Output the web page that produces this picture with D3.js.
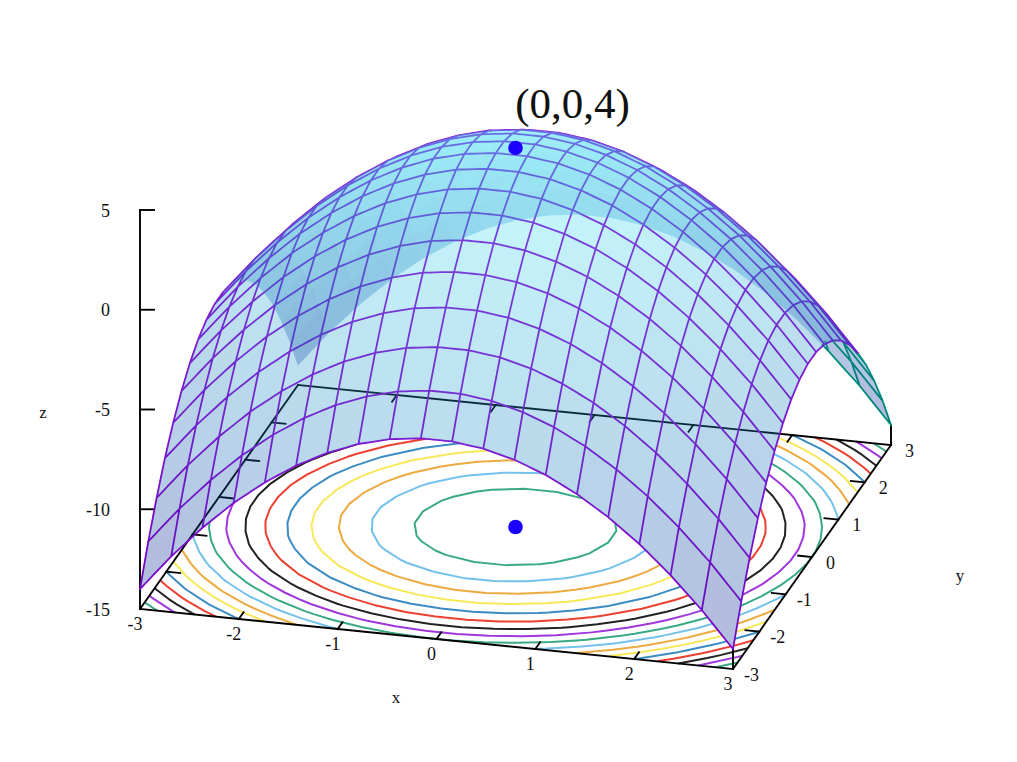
<!DOCTYPE html>
<html>
<head>
<meta charset="utf-8">
<script src="https://cdn.jsdelivr.net/npm/d3@7"></script>
<style>
html,body{margin:0;padding:0;background:#fff}
svg{display:block}
text{font-family:"Liberation Serif",serif;fill:#111}
</style>
</head>
<body>
<svg id="chart" width="1017" height="762"></svg>
<script>
const gridX = [-3,-2.684,-2.368,-2.053,-1.737,-1.421,-1.105,-0.789,-0.474,-0.158,0.158,0.474,0.789,1.105,1.421,1.737,2.053,2.368,2.684,3];
const gridY = gridX.slice();
const zRows = [
[-14,-12.2,-10.61,-9.21,-8.02,-7.02,-6.22,-5.62,-5.22,-5.02,-5.02,-5.22,-5.62,-6.22,-7.02,-8.02,-9.21,-10.61,-12.2,-14],
[-12.2,-10.4,-8.81,-7.41,-6.22,-5.22,-4.42,-3.82,-3.42,-3.22,-3.22,-3.42,-3.82,-4.42,-5.22,-6.22,-7.41,-8.81,-10.4,-12.2],
[-10.61,-8.81,-7.22,-5.82,-4.63,-3.63,-2.83,-2.23,-1.83,-1.63,-1.63,-1.83,-2.23,-2.83,-3.63,-4.63,-5.82,-7.22,-8.81,-10.61],
[-9.21,-7.41,-5.82,-4.42,-3.23,-2.23,-1.43,-0.83,-0.43,-0.23,-0.23,-0.43,-0.83,-1.43,-2.23,-3.23,-4.42,-5.82,-7.41,-9.21],
[-8.02,-6.22,-4.63,-3.23,-2.04,-1.04,-0.24,0.36,0.76,0.96,0.96,0.76,0.36,-0.24,-1.04,-2.04,-3.23,-4.63,-6.22,-8.02],
[-7.02,-5.22,-3.63,-2.23,-1.04,-0.04,0.76,1.36,1.76,1.96,1.96,1.76,1.36,0.76,-0.04,-1.04,-2.23,-3.63,-5.22,-7.02],
[-6.22,-4.42,-2.83,-1.43,-0.24,0.76,1.56,2.16,2.56,2.76,2.76,2.56,2.16,1.56,0.76,-0.24,-1.43,-2.83,-4.42,-6.22],
[-5.62,-3.82,-2.23,-0.83,0.36,1.36,2.16,2.76,3.16,3.36,3.36,3.16,2.76,2.16,1.36,0.36,-0.83,-2.23,-3.82,-5.62],
[-5.22,-3.42,-1.83,-0.43,0.76,1.76,2.56,3.16,3.56,3.76,3.76,3.56,3.16,2.56,1.76,0.76,-0.43,-1.83,-3.42,-5.22],
[-5.02,-3.22,-1.63,-0.23,0.96,1.96,2.76,3.36,3.76,3.96,3.96,3.76,3.36,2.76,1.96,0.96,-0.23,-1.63,-3.22,-5.02],
[-5.02,-3.22,-1.63,-0.23,0.96,1.96,2.76,3.36,3.76,3.96,3.96,3.76,3.36,2.76,1.96,0.96,-0.23,-1.63,-3.22,-5.02],
[-5.22,-3.42,-1.83,-0.43,0.76,1.76,2.56,3.16,3.56,3.76,3.76,3.56,3.16,2.56,1.76,0.76,-0.43,-1.83,-3.42,-5.22],
[-5.62,-3.82,-2.23,-0.83,0.36,1.36,2.16,2.76,3.16,3.36,3.36,3.16,2.76,2.16,1.36,0.36,-0.83,-2.23,-3.82,-5.62],
[-6.22,-4.42,-2.83,-1.43,-0.24,0.76,1.56,2.16,2.56,2.76,2.76,2.56,2.16,1.56,0.76,-0.24,-1.43,-2.83,-4.42,-6.22],
[-7.02,-5.22,-3.63,-2.23,-1.04,-0.04,0.76,1.36,1.76,1.96,1.96,1.76,1.36,0.76,-0.04,-1.04,-2.23,-3.63,-5.22,-7.02],
[-8.02,-6.22,-4.63,-3.23,-2.04,-1.04,-0.24,0.36,0.76,0.96,0.96,0.76,0.36,-0.24,-1.04,-2.04,-3.23,-4.63,-6.22,-8.02],
[-9.21,-7.41,-5.82,-4.42,-3.23,-2.23,-1.43,-0.83,-0.43,-0.23,-0.23,-0.43,-0.83,-1.43,-2.23,-3.23,-4.42,-5.82,-7.41,-9.21],
[-10.61,-8.81,-7.22,-5.82,-4.63,-3.63,-2.83,-2.23,-1.83,-1.63,-1.63,-1.83,-2.23,-2.83,-3.63,-4.63,-5.82,-7.22,-8.81,-10.61],
[-12.2,-10.4,-8.81,-7.41,-6.22,-5.22,-4.42,-3.82,-3.42,-3.22,-3.22,-3.42,-3.82,-4.42,-5.22,-6.22,-7.41,-8.81,-10.4,-12.2],
[-14,-12.2,-10.61,-9.21,-8.02,-7.02,-6.22,-5.62,-5.22,-5.02,-5.02,-5.22,-5.62,-6.22,-7.02,-8.02,-9.21,-10.61,-12.2,-14]
];
const contourLevels = [3,2,1,0,-1,-2,-3,-4,-5,-6,-7,-8,-9,-10,-11,-12,-13];
const contourColors = ["#3aaa85","#74c2ec","#ecaa40","#f7e858","#3a8cc2","#ec4030","#222222","#a036dc"];
const xTicks = [-3,-2,-1,0,1,2,3];
const yTicks = [-3,-2,-1,0,1,2,3];
const zTicks = [-15,-10,-5,0,5];
const markedX = [0,0];
const markedY = [0,0];
const markedZ = [4,-15];
const titleText = "(0,0,4)";

// oblique projection built from three linear scales
const xH = d3.scaleLinear([-3,3],[140,733]), xV = d3.scaleLinear([-3,3],[0,60]);
const yH = d3.scaleLinear([-3,3],[0,158]),   yV = d3.scaleLinear([-3,3],[0,-224]);
const zV = d3.scaleLinear([-15,5],[609,210]);
const project = (x,y,z) => [xH(x)+yH(y), zV(z)+xV(x)+yV(y)];

const palette = d3.scaleLinear([-14,-5,4],["rgb(0,20,138)","rgb(32,138,198)","rgb(70,235,250)"]);
const svg = d3.select("#chart");
const n = gridX.length;

// mesh
const quads = [];
for (let j=0;j<n-1;j++) for (let i=0;i<n-1;i++){
  const c = [[i,j],[i+1,j],[i+1,j+1],[i,j+1]];
  const pts = c.map(([a,b])=>project(gridX[a],gridY[b],zRows[b][a]));
  const ys3 = c.map(([a,b])=>gridY[b]);
  let area=0;
  pts.forEach((p,k)=>{const q=pts[(k+1)%4]; area+=p[0]*q[1]-q[0]*p[1];});
  const z = d3.mean(c,([a,b])=>zRows[b][a]);
  quads.push({i,j,pts,ys:ys3,front:area<0,z});
}
const quadAt=(i,j)=> (i>=0&&j>=0&&i<n-1&&j<n-1)?quads[j*(n-1)+i]:null;
const tris=[];
quads.forEach(q=>{
  [[0,1,2],[0,2,3]].forEach(t=>{
    const [a,b,c]=t.map(k=>q.pts[k]), [da,db,dc]=t.map(k=>q.ys[k]);
    const det=(b[1]-c[1])*(a[0]-c[0])+(c[0]-b[0])*(a[1]-c[1]);
    tris.push({a,b,c,da,db,dc,det,
      x0:Math.min(a[0],b[0],c[0]),x1:Math.max(a[0],b[0],c[0]),
      y0:Math.min(a[1],b[1],c[1]),y1:Math.max(a[1],b[1],c[1])});
  });
});
// along one sight line the data y grows with distance from the viewer
function visible(s,depth){
  for(const t of tris){
    if(s[0]<t.x0||s[0]>t.x1||s[1]<t.y0||s[1]>t.y1||Math.abs(t.det)<1e-6) continue;
    const l1=((t.b[1]-t.c[1])*(s[0]-t.c[0])+(t.c[0]-t.b[0])*(s[1]-t.c[1]))/t.det;
    const l2=((t.c[1]-t.a[1])*(s[0]-t.c[0])+(t.a[0]-t.c[0])*(s[1]-t.c[1]))/t.det;
    const l3=1-l1-l2;
    if(l1<0||l2<0||l3<0) continue;
    if(l1*t.da+l2*t.db+l3*t.dc<depth-0.04) return false;
  }
  return true;
}

// ---- contours on the base plane
const baseZ = zTicks[0];
const cIdx = d3.scaleLinear([0.5,n-0.5],[-3,3]);
const contourGen = d3.contours().size([n,n]).smooth(true).thresholds(contourLevels);
const contourData = contourGen(zRows.flat());
const contourPath = cd => {
  const p = d3.path();
  const inside = q => q[0]>0&&q[0]<n&&q[1]>0&&q[1]<n;
  cd.coordinates.forEach(poly=>poly.forEach(ring=>{
    let pen=false;
    for(let k=0;k<ring.length-1;k++){
      const a=ring[k], b=ring[k+1];
      if(inside(a)&&inside(b)){
        const A=project(cIdx(a[0]),cIdx(a[1]),baseZ), B=project(cIdx(b[0]),cIdx(b[1]),baseZ);
        if(!pen){p.moveTo(A[0],A[1]);pen=true;}
        p.lineTo(B[0],B[1]);
      } else pen=false;
    }
  }));
  return p.toString();
};
svg.append("g").attr("fill","none").attr("stroke-width",2).attr("stroke-linejoin","round")
  .selectAll("path").data(contourData).join("path")
  .attr("d",contourPath)
  .attr("stroke",d=>contourColors[contourLevels.indexOf(d.value)%contourColors.length]);

// ---- surface knocks the contours out
const polyStr = q => q.pts.map(p=>p.join(",")).join(" ");
svg.append("g").selectAll("polygon").data(quads).join("polygon")
  .attr("points",polyStr).attr("fill","#fff").attr("stroke","#fff").attr("stroke-width",0.8);

// ---- frame and ticks
const frame = svg.append("g").attr("stroke","#000").attr("stroke-width",1.9).attr("fill","none").attr("stroke-linecap","square");
const seg = (a,b) => frame.append("line").attr("x1",a[0]).attr("y1",a[1]).attr("x2",b[0]).attr("y2",b[1]);
const [bz,tz]=[zTicks[0],zTicks[zTicks.length-1]];
[[[-3,-3],[3,-3]],[[3,-3],[3,3]],[[3,3],[-3,3]],[[-3,3],[-3,-3]]].forEach(([a,b])=>seg(project(a[0],a[1],bz),project(b[0],b[1],bz)));
seg(project(-3,-3,bz),project(-3,-3,tz));
seg(project(3,-3,bz),project(3,-3,zRows[0][n-1]));
seg(project(3,3,bz),project(3,3,zRows[n-1][n-1]));
xTicks.slice(1,-1).forEach(t=>{
  seg(project(t,-3,bz),project(t,-2.82,bz));
  seg(project(t,3,bz),project(t,2.82,bz));
});
yTicks.slice(1,-1).forEach(t=>{
  seg(project(-3,t,bz),project(-2.86,t,bz));
  seg(project(3,t,bz),project(2.86,t,bz));
});
zTicks.slice(1).forEach(t=>{
  const p=project(-3,-3,t);
  seg(p,[p[0]+14,p[1]]);
});

// ---- hidden-line mesh
const paths={front:d3.path(),back:d3.path()};
const SUB=5;
function addLine(getPt,faces){
  for(let k=0;k<n-1;k++){
    const [q1,q2]=faces(k);
    const kind=((q1&&q1.front)||(q2&&q2.front))?"front":"back";
    for(let s=0;s<SUB;s++){
      const a=getPt(k,s/SUB), b=getPt(k,(s+1)/SUB);
      const m=[(a.p[0]+b.p[0])/2,(a.p[1]+b.p[1])/2];
      if(visible(m,(a.d+b.d)/2)){
        paths[kind].moveTo(a.p[0],a.p[1]);
        paths[kind].lineTo(b.p[0],b.p[1]);
      }
    }
  }
}
for(let j=0;j<n;j++){
  addLine((k,t)=>{
    const x=gridX[k]+(gridX[k+1]-gridX[k])*t, z=zRows[j][k]+(zRows[j][k+1]-zRows[j][k])*t;
    return {p:project(x,gridY[j],z),d:gridY[j]};
  },k=>[quadAt(k,j-1),quadAt(k,j)]);
}
for(let i=0;i<n;i++){
  addLine((k,t)=>{
    const y=gridY[k]+(gridY[k+1]-gridY[k])*t, z=zRows[k][i]+(zRows[k+1][i]-zRows[k][i])*t;
    return {p:project(gridX[i],y,z),d:y};
  },k=>[quadAt(i-1,k),quadAt(i,k)]);
}
svg.append("path").attr("d",paths.back.toString()).attr("fill","none").attr("stroke","#009e73").attr("stroke-width",1.8).attr("stroke-linecap","round");
svg.append("path").attr("d",paths.front.toString()).attr("fill","none").attr("stroke","#9400d3").attr("stroke-width",1.8).attr("stroke-linecap","round");

// ---- translucent fills, one layer per facing
[false,true].forEach(face=>{
  svg.append("g").attr("opacity",0.3)
    .selectAll("polygon").data(quads.filter(q=>q.front===face)).join("polygon")
    .attr("points",polyStr)
    .attr("fill",d=>palette(d.z)).attr("stroke",d=>palette(d.z)).attr("stroke-width",0.6);
});

// ---- marked points
svg.append("g").selectAll("circle").data(markedX).join("circle")
  .attr("cx",(d,i)=>project(d,markedY[i],markedZ[i])[0])
  .attr("cy",(d,i)=>project(d,markedY[i],markedZ[i])[1])
  .attr("r",7.3).attr("fill","#1c00ff");

// ---- text
const label=(x,y,t,size,anchor)=>svg.append("text").attr("x",x).attr("y",y).attr("font-size",size)
  .attr("text-anchor",anchor||"middle").attr("dominant-baseline","central").text(t);
const TS=18;
zTicks.forEach(t=>{const p=project(-3,-3,t); label(p[0]-30,p[1]+0.5,t,TS,"end");});
xTicks.forEach(t=>{const p=project(t,-3,bz); label(p[0]-5,p[1]+15,t,TS);});
yTicks.forEach(t=>{const p=project(3,t,bz); label(p[0]+18.5,p[1]+5.5,t,TS);});
label(396,697,"x",TS-1);
label(960,575,"y",TS-1);
label(43,412,"z",TS-1);
label(572.5,103.5,titleText,43);
</script>
</body>
</html>
